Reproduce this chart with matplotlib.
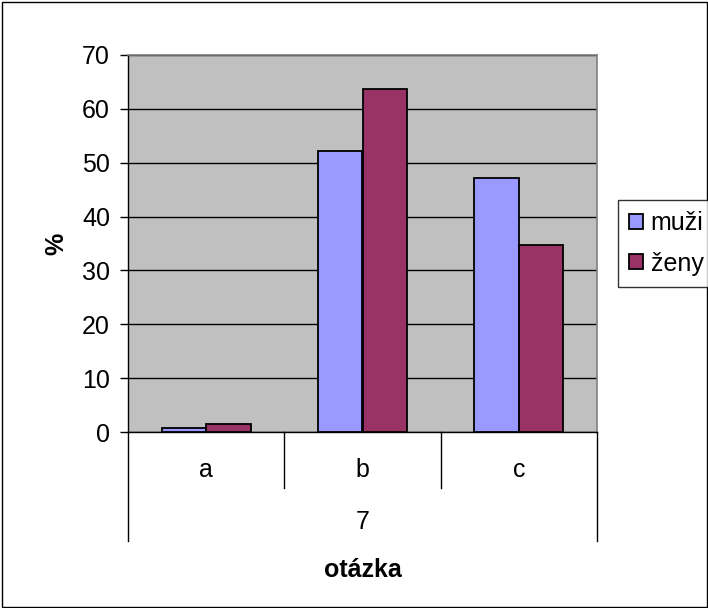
import matplotlib.pyplot as plt
import numpy as np
from matplotlib.lines import Line2D

plt.rcParams['font.family'] = ['Liberation Sans', 'DejaVu Sans']

##################### data
categories = ['a', 'b', 'c']
group_label = '7'
muzi = [0.8, 52.2, 47.1]
zeny = [1.5, 63.7, 34.8]
series_names = ['muži', 'ženy']
yticks = [0, 10, 20, 30, 40, 50, 60, 70]

FS = 18
W, H = 708, 608
fig = plt.figure(figsize=(W / 100, H / 100), dpi=100)
ax = fig.add_axes([128 / W, 1 - 432 / H, (597 - 128) / W, (432 - 55) / H])
ax.set_facecolor('#c0c0c0')

##################### bars
x = np.arange(len(categories))
bw = 1 / 3.5
ax.bar(x - bw / 2, muzi, width=bw, color='#9999ff', edgecolor='black', linewidth=1.3, label=series_names[0], zorder=3)
ax.bar(x + bw / 2, zeny, width=bw, color='#993366', edgecolor='black', linewidth=1.3, label=series_names[1], zorder=3)

ax.set_xlim(-0.5, len(categories) - 0.5)
ax.set_ylim(0, 70)
ax.set_yticks(yticks)
ax.yaxis.grid(True, color='black', linewidth=1)
ax.set_axisbelow(True)
ax.tick_params(axis='y', direction='out', length=6, width=1, labelsize=FS, pad=7)
ax.set_xticks([])

for s in ['top', 'right']:
    ax.spines[s].set_color('#808080')
    ax.spines[s].set_linewidth(1.2)
ax.spines['left'].set_linewidth(1)
ax.spines['bottom'].set_linewidth(1)

ax.set_ylabel('%', fontsize=FS, fontweight='bold', labelpad=10)

##################### multi-level category axis
n = len(categories)
tr = ax.get_xaxis_transform()
for i in range(n + 1):
    xx = i - 0.5
    bottom = -0.29 if i in (0, n) else -0.148
    ax.add_line(Line2D([xx, xx], [0, bottom], transform=tr, color='black', linewidth=1, clip_on=False))
for i, c in enumerate(categories):
    ax.text(i, -0.1, c, transform=tr, ha='center', va='center', fontsize=FS)
ax.text((n - 1) / 2, -0.24, group_label, transform=tr, ha='center', va='center', fontsize=FS)
ax.text((n - 1) / 2, -0.365, 'otázka', transform=tr, ha='center', va='center', fontsize=FS, fontweight='bold')

##################### legend
leg = fig.legend(loc='upper left', bbox_to_anchor=(618 / W, 1 - 200 / H), fontsize=FS,
                 frameon=True, fancybox=False, edgecolor='black', handlelength=0.55, handleheight=0.55,
                 handletextpad=0.3, borderpad=0.45, labelspacing=0.65, borderaxespad=0)
leg.get_frame().set_linewidth(1)

##################### chart border
fig.add_artist(plt.Rectangle((1.5 / W, 1.5 / H), 1 - 3 / W, 1 - 3 / H, transform=fig.transFigure,
                             fill=False, edgecolor='black', linewidth=1))

fig.savefig('out.png', dpi=100)
